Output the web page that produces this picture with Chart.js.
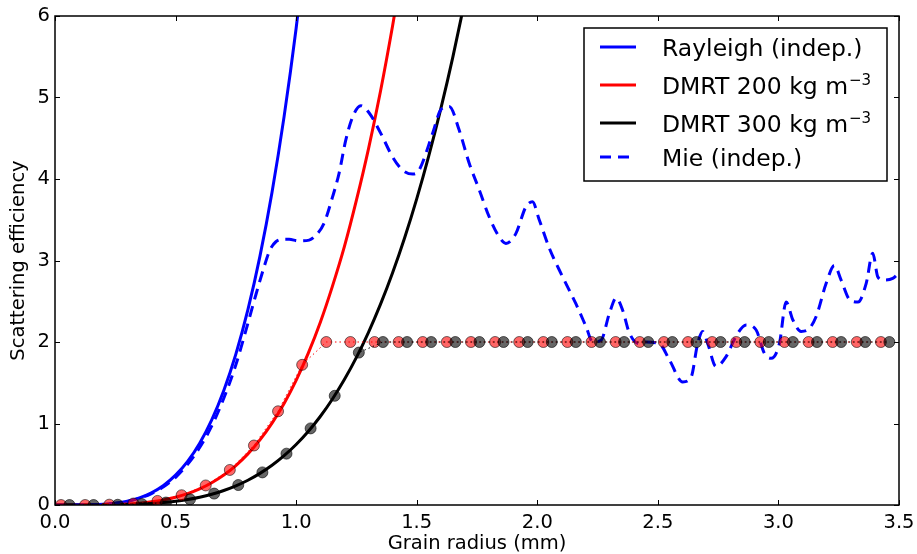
<!DOCTYPE html>
<html>
<head>
<meta charset="utf-8">
<script src="https://cdn.jsdelivr.net/npm/chart.js@4/dist/chart.umd.min.js"></script>
<style>
  html, body { margin: 0; padding: 0; background: #fff; }
  #wrap { width: 917px; height: 554px; }
</style>
</head>
<body>
<div id="wrap"><canvas id="scatChart" width="917" height="554"></canvas></div>
<script>
// smooth curves share one radius grid (mm)
var curveX = [0, 0.05, 0.1, 0.15, 0.2, 0.25, 0.3, 0.35, 0.4, 0.45, 0.5, 0.55, 0.6, 0.65, 0.7, 0.75, 0.8, 0.85,
	0.9, 0.95, 1.0, 1.05, 1.1, 1.15, 1.2, 1.25, 1.3, 1.35, 1.4, 1.45, 1.5, 1.55, 1.6, 1.65, 1.7];
var rayleighY = [0, 0.00004, 0.0006, 0.003, 0.009, 0.023, 0.047, 0.088, 0.150, 0.240, 0.366, 0.535, 0.758,
	1.044, 1.405, 1.851, 2.396, 3.054, 3.838, 4.765, 5.85, 7.11];
var dmrt200Y = [0, 0.00001, 0.0002, 0.0008, 0.0024, 0.006, 0.012, 0.023, 0.039, 0.063, 0.096, 0.140, 0.198,
	0.273, 0.367, 0.484, 0.627, 0.799, 1.004, 1.246, 1.53, 1.86, 2.24, 2.68, 3.17, 3.74, 4.37, 5.08, 5.88, 6.76];
var dmrt300Y = [0, 0, 0.0001, 0.0004, 0.0012, 0.003, 0.006, 0.011, 0.019, 0.030, 0.046, 0.068, 0.096, 0.132,
	0.178, 0.235, 0.304, 0.388, 0.487, 0.605, 0.742, 0.902, 1.086, 1.298, 1.539, 1.811, 2.119, 2.464, 2.850,
	3.279, 3.756, 4.284, 4.863, 5.499, 6.197];

// Mie (indep.)
var mieX = [0, 0.05, 0.1, 0.15, 0.2, 0.25, 0.3, 0.35, 0.4, 0.45, 0.5, 0.55, 0.6, 0.65, 0.7, 0.75, 0.8, 0.833,
	0.867, 0.89, 0.916, 0.95, 0.971, 1.01, 1.054, 1.082, 1.116, 1.151, 1.178, 1.206, 1.234, 1.268, 1.303,
	1.351, 1.40, 1.441, 1.483, 1.51, 1.566, 1.60, 1.635, 1.676, 1.718, 1.759, 1.80, 1.842, 1.87, 1.911,
	1.953, 1.98, 2.008, 2.05, 2.105, 2.16, 2.202, 2.23, 2.264, 2.299, 2.327, 2.354, 2.382, 2.423, 2.451,
	2.506, 2.548, 2.603, 2.638, 2.665, 2.686, 2.707, 2.741, 2.783, 2.824, 2.866, 2.907, 2.942, 2.97, 3.004,
	3.032, 3.06, 3.094, 3.122, 3.156, 3.198, 3.232, 3.26, 3.295, 3.33, 3.364, 3.391, 3.412, 3.433, 3.474, 3.5];
var mieY = [0, 0, 0.001, 0.003, 0.008, 0.021, 0.044, 0.082, 0.14, 0.223, 0.34, 0.50, 0.705, 0.97, 1.31, 1.72,
	2.23, 2.58, 2.92, 3.12, 3.23, 3.26, 3.26, 3.24, 3.25, 3.31, 3.46, 3.78, 4.07, 4.48, 4.76, 4.90, 4.81,
	4.56, 4.27, 4.11, 4.06, 4.11, 4.56, 4.85, 4.89, 4.60, 4.19, 3.87, 3.54, 3.29, 3.21, 3.33,
	3.66, 3.72, 3.50, 3.15, 2.80, 2.47, 2.19, 2.00, 2.02, 2.35, 2.54, 2.39, 2.11, 1.98, 2.00,
	1.98, 1.78, 1.51, 1.57, 1.98, 2.13, 1.98, 1.70, 1.82, 2.07, 2.21, 2.15, 1.86, 1.80, 1.98,
	2.49, 2.27, 2.13, 2.15, 2.31, 2.72, 2.94, 2.76, 2.52, 2.49, 2.72, 3.09, 2.80, 2.76, 2.78, 2.85];

// DMRT sample points (markers)
var dots200X = [0.025, 0.125, 0.225, 0.325, 0.425, 0.525, 0.625, 0.725, 0.825, 0.925, 1.025, 1.125, 1.225,
	1.325, 1.425, 1.525, 1.625, 1.725, 1.825, 1.925, 2.025, 2.125, 2.225, 2.325, 2.425, 2.525, 2.625, 2.725,
	2.825, 2.925, 3.025, 3.125, 3.225, 3.325, 3.425];
var dots200Y = [0, 0, 0.004, 0.018, 0.05, 0.12, 0.24, 0.43, 0.73, 1.15, 1.72, 2, 2,
	2, 2, 2, 2, 2, 2, 2, 2, 2, 2, 2, 2, 2, 2, 2,
	2, 2, 2, 2, 2, 2, 2];
var dots300X = [0.06, 0.16, 0.26, 0.36, 0.46, 0.56, 0.66, 0.76, 0.86, 0.96, 1.06, 1.16, 1.26, 1.36, 1.46,
	1.56, 1.66, 1.76, 1.86, 1.96, 2.06, 2.16, 2.26, 2.36, 2.46, 2.56, 2.66, 2.76, 2.86, 2.96, 3.06, 3.16,
	3.26, 3.36, 3.46];
var dots300Y = [0, 0, 0.003, 0.012, 0.03, 0.07, 0.14, 0.245, 0.40, 0.63, 0.94, 1.34, 1.87, 2, 2,
	2, 2, 2, 2, 2, 2, 2, 2, 2, 2, 2, 2, 2, 2, 2, 2, 2,
	2, 2, 2];

var xTicks = [0, 0.5, 1.0, 1.5, 2.0, 2.5, 3.0, 3.5];
var yTicks = [0, 1, 2, 3, 4, 5, 6];

var FONT = "'DejaVu Sans', sans-serif";

function toPoints(xs, ys) {
	var pts = [];
	var n = Math.min(xs.length, ys.length);
	for (var i = 0; i < n; i++) {
		pts.push({x: xs[i], y: ys[i]});
	}
	return pts;
}

// matplotlib-ish frame, inward ticks and the legend box
var framePlugin = {
	id: 'framePlugin',
	afterDraw: function(chart) {
		var ctx = chart.ctx;
		var a = chart.chartArea;
		var xs = chart.scales.x, ys = chart.scales.y;
		ctx.save();
		ctx.strokeStyle = '#000';
		ctx.lineWidth = 1;
		ctx.beginPath();
		xTicks.forEach(function(v) {
			var px = Math.round(xs.getPixelForValue(v)) + 0.5;
			ctx.moveTo(px, a.bottom); ctx.lineTo(px, a.bottom - 5);
			ctx.moveTo(px, a.top); ctx.lineTo(px, a.top + 5);
		});
		yTicks.forEach(function(v) {
			var py = Math.round(ys.getPixelForValue(v)) + 0.5;
			ctx.moveTo(a.left, py); ctx.lineTo(a.left + 5, py);
			ctx.moveTo(a.right, py); ctx.lineTo(a.right - 5, py);
		});
		ctx.stroke();

		ctx.lineWidth = 1.5;
		ctx.strokeRect(a.left, a.top, a.right - a.left, a.bottom - a.top);

		// legend
		var bx = 584, by = 28, bw = 303, bh = 153;
		ctx.fillStyle = '#fff';
		ctx.fillRect(bx, by, bw, bh);
		ctx.lineWidth = 1.5;
		ctx.strokeStyle = '#000';
		ctx.strokeRect(bx, by, bw, bh);

		var items = [
			{text: 'Rayleigh (indep.)', sup: '', color: '#0000ff', dash: [], y: 47},
			{text: 'DMRT 200 kg m', sup: '\u22123', color: '#ff0000', dash: [], y: 85},
			{text: 'DMRT 300 kg m', sup: '\u22123', color: '#000000', dash: [], y: 123},
			{text: 'Mie (indep.)', sup: '', color: '#0000ff', dash: [11, 7], y: 157}
		];
		items.forEach(function(it) {
			ctx.beginPath();
			ctx.setLineDash(it.dash);
			ctx.strokeStyle = it.color;
			ctx.lineWidth = 3;
			ctx.moveTo(600, it.y);
			ctx.lineTo(636, it.y);
			ctx.stroke();
			ctx.setLineDash([]);

			ctx.fillStyle = '#000';
			ctx.textBaseline = 'alphabetic';
			ctx.textAlign = 'left';
			ctx.font = '23.5px ' + FONT;
			ctx.fillText(it.text, 662, it.y + 9);
			if (it.sup) {
				var w = ctx.measureText(it.text).width;
				ctx.font = '15px ' + FONT;
				ctx.fillText(it.sup, 662 + w + 1, it.y);
			}
		});
		ctx.restore();
	}
};

var ctx = document.getElementById('scatChart').getContext('2d');
var scatChart = new Chart(ctx, {
	type: 'line',
	data: {
		datasets: [{
			label: 'DMRT 300 dots',
			data: toPoints(dots300X, dots300Y),
			borderColor: '#000',
			borderWidth: 1,
			borderDash: [1.5, 3],
			pointRadius: 5.5,
			pointBackgroundColor: 'rgba(0,0,0,0.6)',
			pointBorderColor: 'rgba(0,0,0,0.6)',
			pointBorderWidth: 1,
			order: 1
		}, {
			label: 'DMRT 200 dots',
			data: toPoints(dots200X, dots200Y),
			borderColor: '#ff0000',
			borderWidth: 1,
			borderDash: [1.5, 3],
			pointRadius: 5.5,
			pointBackgroundColor: 'rgba(255,0,0,0.6)',
			pointBorderColor: 'rgba(0,0,0,0.55)',
			pointBorderWidth: 1,
			order: 2
		}, {
			label: 'Mie (indep.)',
			data: toPoints(mieX, mieY),
			borderColor: '#0000ff',
			borderWidth: 3,
			borderDash: [11, 7],
			pointRadius: 0,
			cubicInterpolationMode: 'monotone',
			order: 3
		}, {
			label: 'DMRT 300',
			data: toPoints(curveX, dmrt300Y),
			borderColor: '#000000',
			borderWidth: 3,
			pointRadius: 0,
			cubicInterpolationMode: 'monotone',
			order: 4
		}, {
			label: 'DMRT 200',
			data: toPoints(curveX, dmrt200Y),
			borderColor: '#ff0000',
			borderWidth: 3,
			pointRadius: 0,
			cubicInterpolationMode: 'monotone',
			order: 5
		}, {
			label: 'Rayleigh (indep.)',
			data: toPoints(curveX, rayleighY),
			borderColor: '#0000ff',
			borderWidth: 3,
			pointRadius: 0,
			cubicInterpolationMode: 'monotone',
			order: 6
		}]
	},
	options: {
		responsive: false,
		animation: false,
		layout: {
			padding: {left: 0, right: 18, top: 16, bottom: 0}
		},
		plugins: {
			legend: { display: false },
			tooltip: { enabled: false }
		},
		scales: {
			x: {
				type: 'linear',
				min: 0,
				max: 3.5,
				afterBuildTicks: function(scale) {
					scale.ticks = xTicks.map(function(v) { return {value: v}; });
				},
				afterFit: function(scale) {
					scale.height = 49;
					// let the end labels hang over the edges like matplotlib does
					scale.paddingLeft = 0;
					scale.paddingRight = 0;
				},
				grid: { display: false, drawTicks: false },
				border: { display: false },
				ticks: {
					padding: 6,
					color: '#000',
					maxRotation: 0,
					font: { family: FONT, size: 19.5 },
					callback: function(v) { return v.toFixed(1); }
				},
				title: {
					display: true,
					text: 'Grain radius (mm)',
					color: '#000',
					padding: {top: 0, bottom: 0},
					font: { family: FONT, size: 19.5, lineHeight: 1 }
				}
			},
			y: {
				type: 'linear',
				min: 0,
				max: 6,
				afterBuildTicks: function(scale) {
					scale.ticks = yTicks.map(function(v) { return {value: v}; });
				},
				afterFit: function(scale) {
					scale.width = 55;
					scale.paddingTop = 0;
					scale.paddingBottom = 0;
				},
				grid: { display: false, drawTicks: false },
				border: { display: false },
				ticks: {
					padding: 5,
					color: '#000',
					font: { family: FONT, size: 19.5 },
					callback: function(v) { return String(v); }
				},
				title: {
					display: true,
					text: 'Scattering efficiency',
					color: '#000',
					padding: {top: 9, bottom: 0},
					font: { family: FONT, size: 19.5, lineHeight: 1 }
				}
			}
		}
	},
	plugins: [framePlugin]
});
</script>
</body>
</html>
